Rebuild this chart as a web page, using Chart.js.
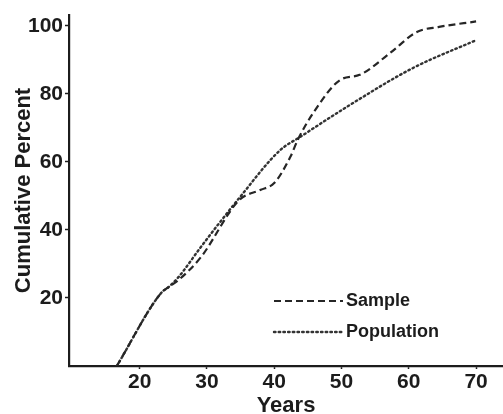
<!DOCTYPE html>
<html>
<head>
<meta charset="utf-8">
<script src="https://cdn.jsdelivr.net/npm/chart.js@4/dist/chart.umd.min.js"></script>
<style>
  html, body { margin: 0; padding: 0; background: #fff; }
  #wrap { width: 503px; height: 414px; }
</style>
</head>
<body>
<div id="wrap"><canvas id="myChart" width="503" height="414"></canvas></div>
<script>
// values
var sampleYears = [16.6, 23.2, 24.3, 25.8, 29.1, 34.8, 38, 40, 42.4, 43.5, 45.8, 49.8, 52.7, 57.2, 61.2, 64.5, 70]
var sampleValues = [0, 21.5, 23.2, 25.3, 32, 48.8, 51.8, 53.8, 61.5, 66.5, 74.4, 84.1, 85.6, 92, 98.2, 99.7, 101.3]

var populationYears = [16.6, 23.2, 24.3, 25.8, 29.1, 34.8, 40.9, 43.9, 50.8, 60.6, 70]
var populationValues = [0, 21.5, 23.2, 26.2, 35, 49.4, 63.5, 67.4, 76.2, 87.6, 95.8]

var seriesNames = ["Sample", "Population"]
var xTicks = [20, 30, 40, 50, 60, 70]
var yTicks = [20, 40, 60, 80, 100]

function toPoints(xs, ys) {
    var pts = []
    for (let i = 0; i < xs.length; i++) {
        pts.push({ x: xs[i], y: ys[i] })
    }
    return pts
}

var ink = "#1c1c1c"
var fontFamily = "'Liberation Sans', Arial, sans-serif"

// legend drawn inside the plot, like the original figure
var inPlotLegend = {
    id: "inPlotLegend",
    afterDatasetsDraw(chart, args, opts) {
        var ctx = chart.ctx
        ctx.save()
        chart.data.datasets.forEach(function (ds, i) {
            var y = opts.y + i * opts.gap
            ctx.beginPath()
            ctx.setLineDash(ds.borderDash)
            ctx.lineWidth = ds.borderWidth
            ctx.lineCap = ds.borderCapStyle || "butt"
            ctx.strokeStyle = ds.borderColor
            ctx.moveTo(opts.x, y)
            ctx.lineTo(opts.x + opts.len, y)
            ctx.stroke()
            ctx.setLineDash([])
            ctx.fillStyle = ink
            ctx.font = "bold 18px " + fontFamily
            ctx.textBaseline = "middle"
            ctx.textAlign = "left"
            ctx.fillText(ds.label, opts.x + opts.len + 3, y)
        })
        ctx.restore()
    }
}

new Chart("myChart", {
    type: "line",
    data: {
        datasets: [{
            label: seriesNames[0],
            data: toPoints(sampleYears, sampleValues),
            borderColor: "#262626",
            borderWidth: 2.2,
            borderDash: [7, 4],
            pointRadius: 0,
            cubicInterpolationMode: "monotone",
            fill: false
        }, {
            label: seriesNames[1],
            data: toPoints(populationYears, populationValues),
            borderColor: "#333",
            borderWidth: 2.4,
            borderDash: [1.5, 3.2],
            borderCapStyle: "round",
            pointRadius: 0,
            cubicInterpolationMode: "monotone",
            fill: false
        }]
    },
    plugins: [inPlotLegend],
    options: {
        responsive: false,
        animation: false,
        layout: { padding: { top: 15, right: 0, left: 0, bottom: 0 } },
        plugins: {
            legend: { display: false },
            tooltip: { enabled: false },
            inPlotLegend: { x: 274, y: 301, gap: 31, len: 69 }
        },
        scales: {
            x: {
                type: "linear",
                min: 9.5,
                max: 74,
                afterBuildTicks: function (scale) {
                    scale.ticks = xTicks.map(function (v) { return { value: v } })
                },
                afterFit: function (scale) { scale.height = 48 },
                border: { color: ink, width: 2.2 },
                grid: { drawOnChartArea: false, tickLength: 3, color: ink, tickWidth: 1.5 },
                ticks: { color: ink, padding: 1, maxRotation: 0, font: { family: fontFamily, size: 21, weight: "bold" } },
                title: {
                    display: true,
                    text: "Years",
                    color: ink,
                    padding: 0,
                    font: { family: fontFamily, size: 22, weight: "bold", lineHeight: 0.75 }
                }
            },
            y: {
                type: "linear",
                min: 0,
                max: 103.2,
                afterBuildTicks: function (scale) {
                    scale.ticks = yTicks.map(function (v) { return { value: v } })
                },
                afterFit: function (scale) { scale.width = 69 },
                border: { color: ink, width: 2.2 },
                grid: { drawOnChartArea: false, tickLength: 4, color: ink, tickWidth: 1.5 },
                ticks: { color: ink, padding: 2, font: { family: fontFamily, size: 21, weight: "bold" } },
                title: {
                    display: true,
                    text: "Cumulative Percent",
                    color: ink,
                    padding: { top: 11, bottom: 0 },
                    font: { family: fontFamily, size: 22, weight: "bold" }
                }
            }
        }
    }
})
</script>
</body>
</html>
